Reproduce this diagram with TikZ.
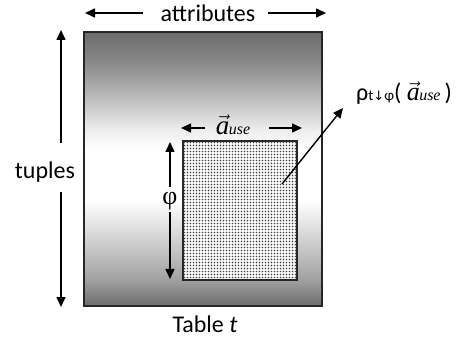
\documentclass[tikz,border=0pt]{standalone}
\usepackage{fontspec}
\setmainfont{Carlito}
\newfontfamily\timesf{Liberation Serif}
\newfontfamily\djv{DejaVu Sans}
\usetikzlibrary{arrows.meta,patterns}
\definecolor{c0}{HTML}{6C6C6C}
\definecolor{c1}{HTML}{A0A0A0}
\definecolor{c2}{HTML}{DDDDDD}
\definecolor{c3}{HTML}{FFFFFF}
\definecolor{c4}{HTML}{EEEEEE}
\definecolor{c5}{HTML}{BBBBBB}
\definecolor{c6}{HTML}{8A8A8A}
\pgfdeclareverticalshading{tblshade}{100bp}{color(0bp)=(c0); color(25bp)=(c0); color(29.7bp)=(c1); color(38.9bp)=(c2); color(44.3bp)=(c3); color(53.5bp)=(c3); color(57.1bp)=(c4); color(63.1bp)=(c5); color(69.3bp)=(c6); color(75bp)=(c0); color(100bp)=(c0)}
\pgfdeclarepatternformonly{bigdots}{\pgfqpoint{-1pt}{-1pt}}{\pgfqpoint{4pt}{4pt}}{\pgfqpoint{3pt}{3pt}}{%
  \pgfpathcircle{\pgfqpoint{1.5pt}{1.5pt}}{0.95pt}\pgfusepath{fill}}
\newcommand{\avec}{$\vec{\mbox{\timesf\itshape a}}$\kern-0.5pt{\timesf\itshape\fontsize{16}{16}\selectfont use}}
\begin{document}
\begin{tikzpicture}[x=1pt,y=-1pt,
  lbl/.style={font=\fontsize{24}{24}\selectfont, inner sep=0pt},
  arr/.style={line width=1.6pt, -{Triangle[length=10pt,width=9pt]}},
  tblbox/.style={draw=black!85, line width=1.5pt, shading=tblshade, minimum width=238pt, minimum height=274pt, inner sep=0pt},
  selbox/.style={draw=black!85, line width=1.2pt, fill=white, minimum width=114pt, minimum height=139pt, inner sep=0pt}
]
\useasboundingbox (0,0) rectangle (466,339);
\node[tblbox] (tbl) at (203,169) {};
\node[selbox] (sel) at (240,210.5) {};
\fill[pattern=bigdots, pattern color=black!75] (sel.south west) rectangle (sel.north east);
\draw[black!85, line width=1.2pt] (sel.south west) rectangle (sel.north east);

% attributes
\node[lbl] (attr) at (208,13) {attributes};
\coordinate (attrL) at (85,13);
\coordinate (attrR) at (326,13);
\coordinate (attrLt) at (143,13);
\coordinate (attrRt) at (268,13);
\draw[arr] (attrLt) -- (attrL);
\draw[arr] (attrRt) -- (attrR);

% tuples
\node[lbl] (tup) at (45,172) {tuples};
\coordinate (tupT) at (61,30);
\coordinate (tupB) at (61,307);
\coordinate (tupA) at (61,143);
\coordinate (tupC) at (61,192);
\draw[arr] (tupA) -- (tupT);
\draw[arr] (tupC) -- (tupB);

% phi
\node[inner sep=0pt, font=\timesf\fontsize{26}{26}\selectfont] (phi) at (170,201) {φ};
\coordinate (phiT) at (170,142);
\coordinate (phiB) at (170,279);
\coordinate (phiA) at (170,187);
\coordinate (phiC) at (170,212);
\draw[arr] (phiA) -- (phiT);
\draw[arr] (phiC) -- (phiB);

% a_use
\node[inner sep=0pt, font=\fontsize{27}{27}\selectfont] (ause) at (233,125) {\avec};
\coordinate (auL) at (181,128);
\coordinate (auR) at (302,128);
\coordinate (auLt) at (205,128);
\coordinate (auRt) at (269,128);
\draw[arr] (auLt) -- (auL);
\draw[arr] (auRt) -- (auR);

% rho label and pointer
\node[inner sep=0pt, font=\fontsize{24}{24}\selectfont] (rho) at (404,93) {ρ{\fontsize{15}{15}\selectfont t{\djv\fontsize{13}{13}\selectfont ↓}φ}( {\fontsize{26}{26}\selectfont\avec}\,)};
\coordinate (pin) at (282,184);
\coordinate (ptip) at (343,108);
\draw[arr, line width=1.4pt] (pin) -- (ptip);

% caption
\node[lbl] (cap) at (205,324) {Table \textit{t}};
\end{tikzpicture}
\end{document}
